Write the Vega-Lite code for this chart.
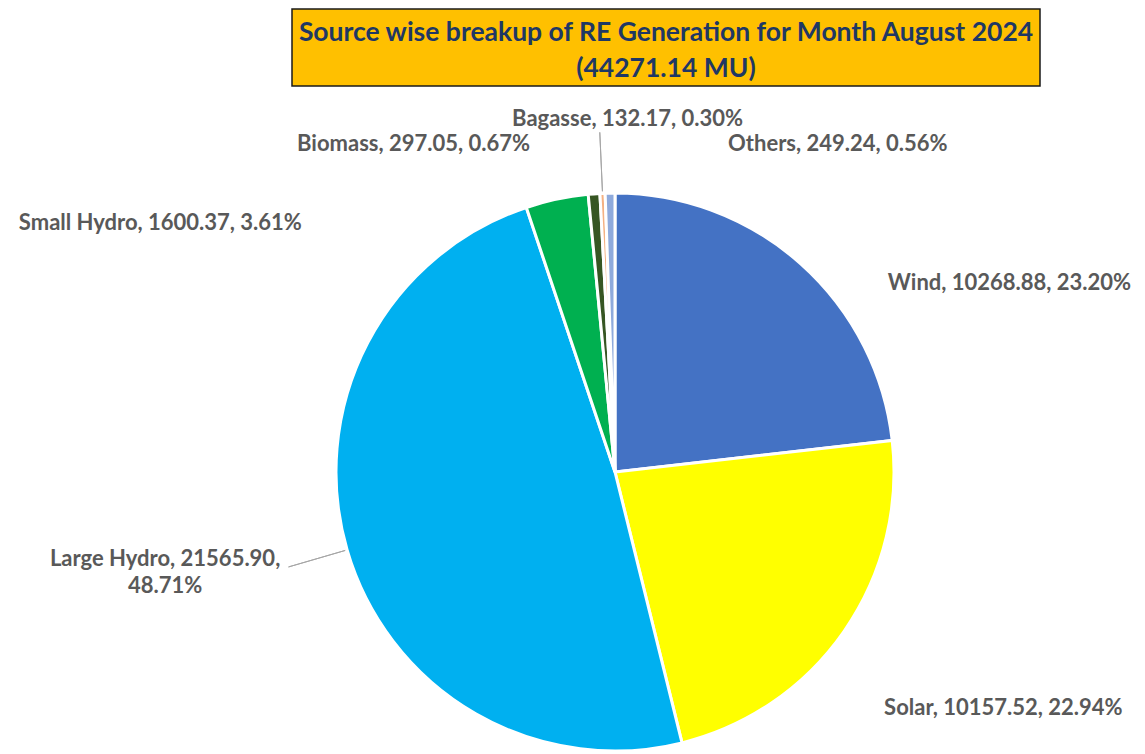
{
  "$schema": "https://vega.github.io/schema/vega-lite/v6.json",
  "background": "white",
  "padding": {"top": 8, "left": 0, "right": 0, "bottom": 0},
  "bounds": "flush",
  "spacing": 180,
  "config": {"view": {"stroke": null}, "font": "Lato"},
  "datasets": {
    "re": [
      {"Order": 1, "Source": "Wind", "Value": 10268.88, "Percent": 23.20, "Label": "Wind, 10268.88, 23.20%"},
      {"Order": 2, "Source": "Solar", "Value": 10157.52, "Percent": 22.94, "Label": "Solar, 10157.52, 22.94%"},
      {"Order": 3, "Source": "Large Hydro", "Value": 21565.90, "Percent": 48.71, "Label": "Large Hydro, 21565.90,\n48.71%"},
      {"Order": 4, "Source": "Small Hydro", "Value": 1600.37, "Percent": 3.61, "Label": "Small Hydro, 1600.37, 3.61%"},
      {"Order": 5, "Source": "Biomass", "Value": 297.05, "Percent": 0.67, "Label": "Biomass, 297.05, 0.67%"},
      {"Order": 6, "Source": "Bagasse", "Value": 132.17, "Percent": 0.30, "Label": "Bagasse, 132.17, 0.30%"},
      {"Order": 7, "Source": "Others", "Value": 249.24, "Percent": 0.56, "Label": "Others, 249.24, 0.56%"}
    ]
  },
  "vconcat": [
    {
      "bounds": "flush",
      "spacing": 0,
      "hconcat": [
        {
          "width": 292, "height": 77,
          "data": {"values": [{}]},
          "mark": {"type": "point", "opacity": 0},
          "encoding": {}
        },
        {
          "width": 748, "height": 77,
          "view": {"fill": "#FFC000", "stroke": "#1a1a1a", "strokeWidth": 1.5},
          "data": {"values": [{"Title": "Source wise breakup of RE Generation for Month August 2024\n(44271.14 MU)"}]},
          "mark": {"type": "text", "font": "Lato", "fontWeight": "bold", "fontSize": 26.5, "color": "#1F3864", "lineBreak": "\n", "lineHeight": 36, "align": "center", "baseline": "middle", "dy": -15},
          "encoding": {"text": {"field": "Title", "type": "nominal"}}
        }
      ]
    },
    {
      "bounds": "flush",
      "spacing": 0,
      "hconcat": [
        {
          "width": 85, "height": 566,
          "data": {"values": [{}]},
          "mark": {"type": "point", "opacity": 0},
          "encoding": {}
        },
        {
          "width": 1060, "height": 566,
          "data": {"name": "re"},
          "encoding": {
            "theta": {"field": "Value", "type": "quantitative", "stack": true},
            "order": {"field": "Order", "type": "quantitative"}
          },
          "layer": [
            {
              "mark": {"type": "arc", "outerRadius": 279, "stroke": "white", "strokeWidth": 3},
              "encoding": {
                "color": {
                  "field": "Source", "type": "nominal",
                  "scale": {
                    "domain": ["Wind", "Solar", "Large Hydro", "Small Hydro", "Biomass", "Bagasse", "Others"],
                    "range": ["#4472C4", "#FFFF00", "#00B0F0", "#00B050", "#375623", "#F4B183", "#8FAADC"]
                  },
                  "legend": null
                }
              }
            },
            {
              "mark": {"type": "arc", "padAngle": 3, "fillOpacity": 0, "stroke": "#A6A6A6", "strokeWidth": 1},
              "encoding": {
                "radius": {"value": 340},
                "radius2": {"value": 281},
                "strokeOpacity": {"condition": {"test": "datum.Source === 'Large Hydro' || datum.Source === 'Bagasse'", "value": 1}, "value": 0}
              }
            },
            {
              "mark": {"type": "text", "radius": 279, "align": "left", "baseline": "middle", "dx": 87, "dy": 19, "fontSize": 22, "fontWeight": "bold", "color": "#595959", "font": "Lato"},
              "encoding": {"text": {"condition": {"test": "datum.Source === 'Wind'", "field": "Label", "type": "nominal"}, "value": ""}}
            },
            {
              "mark": {"type": "text", "radius": 279, "align": "left", "baseline": "middle", "dx": 40, "dy": 77, "fontSize": 22, "fontWeight": "bold", "color": "#595959", "font": "Lato"},
              "encoding": {"text": {"condition": {"test": "datum.Source === 'Solar'", "field": "Label", "type": "nominal"}, "value": ""}}
            },
            {
              "mark": {"type": "text", "radius": 279, "align": "center", "baseline": "middle", "dx": -182, "dy": 9, "lineBreak": "\n", "lineHeight": 27, "fontSize": 22, "fontWeight": "bold", "color": "#595959", "font": "Lato"},
              "encoding": {"text": {"condition": {"test": "datum.Source === 'Large Hydro'", "field": "Label", "type": "nominal"}, "value": ""}}
            },
            {
              "mark": {"type": "text", "radius": 279, "align": "right", "baseline": "middle", "dx": -255, "dy": 24, "fontSize": 22, "fontWeight": "bold", "color": "#595959", "font": "Lato"},
              "encoding": {"text": {"condition": {"test": "datum.Source === 'Small Hydro'", "field": "Label", "type": "nominal"}, "value": ""}}
            },
            {
              "mark": {"type": "text", "radius": 279, "align": "right", "baseline": "middle", "dx": -64, "dy": -50, "fontSize": 22, "fontWeight": "bold", "color": "#595959", "font": "Lato"},
              "encoding": {"text": {"condition": {"test": "datum.Source === 'Biomass'", "field": "Label", "type": "nominal"}, "value": ""}}
            },
            {
              "mark": {"type": "text", "radius": 279, "align": "center", "baseline": "middle", "dx": 25, "dy": -74, "fontSize": 22, "fontWeight": "bold", "color": "#595959", "font": "Lato"},
              "encoding": {"text": {"condition": {"test": "datum.Source === 'Bagasse'", "field": "Label", "type": "nominal"}, "value": ""}}
            },
            {
              "mark": {"type": "text", "radius": 279, "align": "left", "baseline": "middle", "dx": 118, "dy": -49, "fontSize": 22, "fontWeight": "bold", "color": "#595959", "font": "Lato"},
              "encoding": {"text": {"condition": {"test": "datum.Source === 'Others'", "field": "Label", "type": "nominal"}, "value": ""}}
            }
          ]
        }
      ]
    }
  ]
}
